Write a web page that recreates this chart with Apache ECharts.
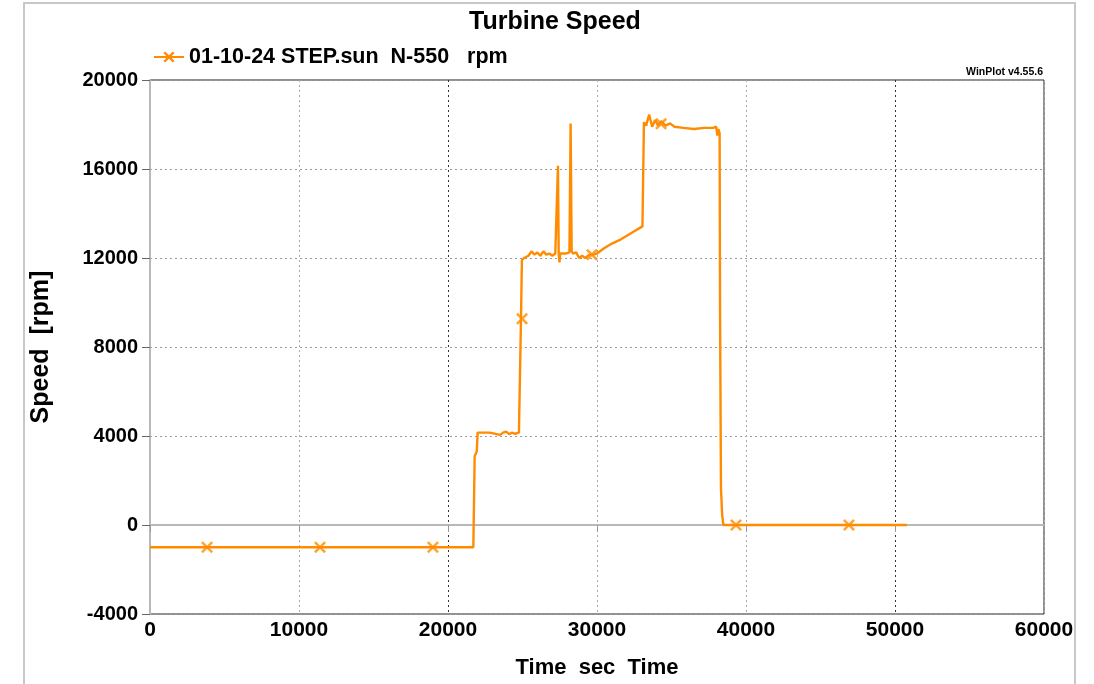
<!DOCTYPE html>
<html>
<head>
<meta charset="utf-8">
<script src="https://cdn.jsdelivr.net/npm/echarts@6/dist/echarts.min.js"></script>
<style>
  html, body { margin: 0; padding: 0; background: #fff; }
  #chart { width: 1094px; height: 684px; }
</style>
</head>
<body>
<div id="chart"></div>
<script>
const seriesName = '01-10-24 STEP.sun  N-550   rpm';

// time [sec] and speed [rpm]
const timeSec = [
  0, 21700, 21790, 21930, 21990, 22800, 22900, 23500, 23700, 23900, 24100, 24300, 24500, 24760, 24830,
  24900, 24960, 25100, 25400, 25600, 25800, 26000, 26200, 26400, 26600, 26800, 27000, 27200, 27330,
  27380, 27430, 27480, 27530, 27900, 28150, 28230, 28300, 28400, 28600, 28800, 29000, 29200, 29500,
  29750, 30000, 30500, 31000, 31500, 32000, 32500, 33050, 33150, 33300, 33500, 33700, 33900, 34100,
  34300, 34600, 34900, 35200, 35800, 36500, 37200, 37800, 38000, 38080, 38150, 38230, 38260, 38320,
  38400, 38480, 50800
];
const speedRpm = [
  -1000, -1000, 3090, 3310, 4150, 4150, 4080, 4050, 4150, 4200, 4080, 4150, 4100, 4150, 4200,
  9300, 11900, 12000, 12100, 12300, 12150, 12250, 12100, 12300, 12150, 12200, 12100, 12200, 12250,
  16150, 12200, 11800, 12200, 12200, 12250, 18050, 12300, 12200, 12250, 12000, 12100, 12000, 12150,
  12150, 12200, 12450, 12650, 12800, 13000, 13200, 13420, 18100, 17950, 18450, 17900, 18200, 17950,
  18150, 17950, 18050, 17900, 17850, 17800, 17850, 17850, 17900, 17500, 17800, 17600, 9360, 1650,
  460, 0, 0
];

// marker positions along the trace
const markTime = [3830, 11410, 18990, 24970, 29660, 34300, 39330, 46910];
const markSpeed = [-1000, -1000, -1000, 9270, 12150, 18030, 0, 0];

const crossPath = 'path://M0,1.5 L1.5,0 L5,3.5 L8.5,0 L10,1.5 L6.5,5 L10,8.5 L8.5,10 L5,6.5 L1.5,10 L0,8.5 L3.5,5 Z';
const orange = '#ff8c00';
const font = 'Liberation Sans';

const chart = echarts.init(document.getElementById('chart'));

chart.setOption({
  animation: false,
  backgroundColor: '#fff',
  title: {
    text: 'Turbine Speed',
    left: 550,
    textAlign: 'center',
    top: 5,
    textStyle: { fontFamily: font, fontSize: 25, fontWeight: 'bold', color: '#000' }
  },
  legend: {
    data: [seriesName],
    left: 148,
    top: 41,
    itemWidth: 30,
    itemHeight: 14,
    itemGap: 6,
    textStyle: { fontFamily: font, fontSize: 21.5, fontWeight: 'bold', color: '#000' }
  },
  graphic: [
    {
      type: 'rect',
      shape: { x: 24, y: 3, width: 1051, height: 690 },
      style: { fill: 'none', stroke: '#c8c8c8', lineWidth: 2 },
      silent: true
    },
    {
      type: 'text',
      right: 51,
      top: 67,
      style: { text: 'WinPlot v4.55.6', fontFamily: font, fontSize: 10.5, fontWeight: 'bold', fill: '#000' }
    }
  ],
  grid: {
    left: 150,
    right: 50,
    top: 80,
    bottom: 68,
    show: true,
    borderColor: '#222',
    borderWidth: 1
  },
  xAxis: {
    type: 'value',
    min: 0,
    max: 60000,
    interval: 10000,
    name: 'Time  sec  Time',
    nameLocation: 'middle',
    nameGap: 43,
    nameTextStyle: { fontFamily: font, fontSize: 22, fontWeight: 'bold', color: '#000' },
    axisLine: { lineStyle: { color: '#b8b8b8', width: 2 } },
    axisTick: { show: true, length: 7, lineStyle: { color: '#999' } },
    axisLabel: {
      margin: 6,
      formatter: v => String(v),
      fontFamily: font, fontSize: 21, fontWeight: 'bold', color: '#000'
    },
    splitLine: {
      show: true,
      lineStyle: {
        type: [2, 3],
        color: ['#aaa', '#aaa', '#333', '#aaa', '#aaa', '#333', '#aaa'],
        width: 1
      }
    }
  },
  yAxis: {
    type: 'value',
    min: -4000,
    max: 20000,
    interval: 4000,
    name: 'Speed  [rpm]',
    nameLocation: 'middle',
    nameGap: 96,
    nameTextStyle: { fontFamily: font, fontSize: 25, fontWeight: 'bold', color: '#000' },
    axisLine: { show: true, lineStyle: { color: '#b8b8b8', width: 2 } },
    axisTick: { show: true, length: 8, lineStyle: { color: '#666' } },
    axisLabel: {
      margin: 12,
      formatter: v => String(v),
      fontFamily: font, fontSize: 20, fontWeight: 'bold', color: '#000'
    },
    splitLine: { show: true, lineStyle: { type: [2, 3], color: '#999', width: 1 } }
  },
  series: [
    {
      name: seriesName,
      type: 'line',
      data: timeSec.map((t, i) => [t, speedRpm[i]]),
      symbol: crossPath,
      symbolSize: 12,
      showSymbol: false,
      color: orange,
      lineStyle: { color: orange, width: 2.4 },
      itemStyle: { color: orange },
      z: 3
    },
    {
      name: 'markers',
      type: 'scatter',
      data: markTime.map((t, i) => [t, markSpeed[i]]),
      symbol: crossPath,
      symbolSize: 12,
      itemStyle: { color: orange },
      z: 4
    }
  ]
});
</script>
</body>
</html>
